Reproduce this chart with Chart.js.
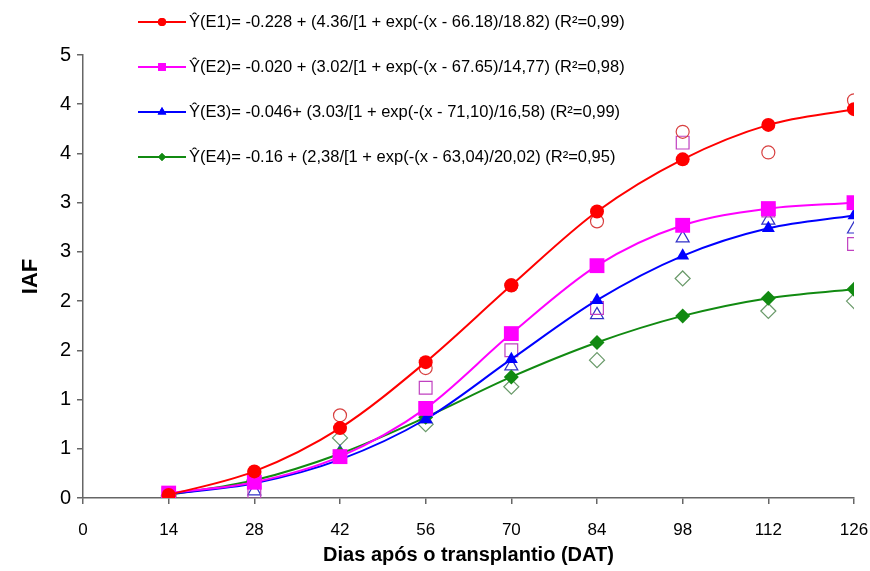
<!DOCTYPE html>
<html lang="pt">
<head>
<meta charset="UTF-8">
<title>IAF</title>
<script src="https://cdn.jsdelivr.net/npm/chart.js@4/dist/chart.umd.min.js"></script>
<style>
  html, body { margin: 0; padding: 0; background: #fff; }
  #wrap { width: 870px; height: 571px; }
</style>
</head>
<body>
<div id="wrap"><canvas id="grafico"></canvas></div>
<script>
// dias apos o transplantio
var dias = [14, 28, 42, 56, 70, 84, 98, 112, 126];
var yTickLabels = ['0', '1', '1', '2', '2', '3', '3', '4', '4', '5'];

// valores ajustados (curvas)
var e1Ajust = [0.03, 0.27, 0.71, 1.38, 2.16, 2.91, 3.44, 3.79, 3.95];
var e2Ajust = [0.05, 0.16, 0.42, 0.91, 1.67, 2.36, 2.77, 2.94, 3.00];
var e3Ajust = [0.04, 0.15, 0.39, 0.80, 1.41, 2.01, 2.46, 2.74, 2.87];
var e4Ajust = [0.03, 0.18, 0.45, 0.82, 1.23, 1.58, 1.85, 2.03, 2.12];

// valores observados
var e1Obs = [0.03, 0.26, 0.84, 1.32, 2.16, 2.81, 3.72, 3.51, 4.04];
var e2Obs = [0.04, 0.06, 0.42, 1.12, 1.50, 1.93, 3.61, 2.92, 2.58];
var e3Obs = [0.02, 0.07, 0.46, 0.80, 1.34, 1.86, 2.64, 2.82, 2.73];
var e4Obs = [0.02, 0.18, 0.61, 0.75, 1.13, 1.40, 2.23, 1.90, 2.00];

var legendas = [
    '\u0176(E1)= -0.228 + (4.36/[1 + exp(-(x - 66.18)/18.82) (R\u00b2=0,99)',
    '\u0176(E2)= -0.020 + (3.02/[1 + exp(-(x - 67.65)/14,77) (R\u00b2=0,98)',
    '\u0176(E3)= -0.046+ (3.03/[1 + exp(-(x - 71,10)/16,58) (R\u00b2=0,99)',
    '\u0176(E4)= -0.16 + (2,38/[1 + exp(-(x - 63,04)/20,02) (R\u00b2=0,95)'
];

function pontos(ys) {
    return dias.map(function (d, i) { return { x: d, y: ys[i] }; });
}

function curva(label, ys, cor, estilo, raio) {
    return {
        label: label, data: pontos(ys), borderColor: cor, backgroundColor: cor,
        borderWidth: 2, pointStyle: estilo, pointRadius: raio, pointBorderWidth: 0,
        pointBackgroundColor: cor, cubicInterpolationMode: 'monotone', showLine: true
    };
}

function observado(ys, cor, estilo, raio) {
    return {
        label: 'obs', data: pontos(ys), showLine: false, borderColor: cor,
        backgroundColor: 'rgba(0,0,0,0)', pointStyle: estilo, pointRadius: raio,
        pointBorderWidth: 1.2, pointBackgroundColor: 'rgba(255,255,255,0)', pointBorderColor: cor
    };
}

var cores = ['#ff0000', '#ff00ff', '#0000ff', '#118a11'];
var estilos = ['circle', 'rect', 'triangle', 'rectRot'];
var legRaio = [4, 5.5, 5, 4];
var legY = [22, 67, 112, 157];

// legenda desenhada por cima da area do grafico
var legendaPlugin = {
    id: 'legendaPlugin',
    afterDraw: function (chart) {
        var ctx = chart.ctx;
        ctx.save();
        for (var i = 0; i < 4; i++) {
            var y = legY[i];
            ctx.strokeStyle = cores[i];
            ctx.lineWidth = 2;
            ctx.beginPath();
            ctx.moveTo(138, y);
            ctx.lineTo(186, y);
            ctx.stroke();
            ctx.fillStyle = cores[i];
            Chart.helpers.drawPoint(ctx, { pointStyle: estilos[i], radius: legRaio[i], borderWidth: 0 }, 162, y);
            ctx.fill();
            ctx.fillStyle = '#000';
            ctx.font = '16.5px "Liberation Sans", Arial, sans-serif';
            ctx.textBaseline = 'middle';
            ctx.fillText(legendas[i], 189, y);
        }
        ctx.restore();
    }
};

var fonte = '"Liberation Sans", Arial, sans-serif';

var config = {
    type: 'line',
    data: {
        datasets: [
            curva('E1', e1Ajust, cores[0], 'circle', 7),
            curva('E2', e2Ajust, cores[1], 'rect', 10.5),
            curva('E3', e3Ajust, cores[2], 'triangle', 7.5),
            curva('E4', e4Ajust, cores[3], 'rectRot', 7.5),
            observado(e1Obs, '#d84040', 'circle', 6.5),
            observado(e2Obs, '#c040c0', 'rect', 9),
            observado(e3Obs, '#3030c8', 'triangle', 7.5),
            observado(e4Obs, '#6a9a6a', 'rectRot', 7.5)
        ]
    },
    options: {
        responsive: true,
        maintainAspectRatio: false,
        animation: false,
        events: [],
        layout: { padding: { left: 0, right: 16, top: 55, bottom: 0 } },
        plugins: { legend: { display: false }, tooltip: { enabled: false } },
        scales: {
            x: {
                type: 'linear', min: 0, max: 126,
                afterFit: function (s) { s.height = 73; s.paddingLeft = 0; s.paddingRight = 0; },
                ticks: { stepSize: 14, color: '#000', padding: 16, font: { family: fonte, size: 17 } },
                grid: { drawOnChartArea: false, drawTicks: true, tickLength: 6, color: '#666', lineWidth: 1.5 },
                border: { color: '#666', width: 1.5 },
                title: { display: true, text: 'Dias após o transplantio (DAT)', color: '#000',
                    font: { family: fonte, size: 20, weight: 'bold' }, padding: { top: 9 } }
            },
            y: {
                min: 0, max: 4.5,
                afterFit: function (s) { s.width = 83; },
                ticks: {
                    stepSize: 0.5, color: '#000', padding: 6,
                    font: { family: fonte, size: 20 },
                    callback: function (v, i) { return yTickLabels[i]; }
                },
                grid: { drawOnChartArea: false, drawTicks: true, tickLength: 6, color: '#666', lineWidth: 1.5 },
                border: { color: '#666', width: 1.5 },
                title: { display: true, text: 'IAF', color: '#000',
                    font: { family: fonte, size: 22, weight: 'bold' }, padding: { top: 18, bottom: 0 } }
            }
        }
    },
    plugins: [legendaPlugin]
};

new Chart(document.getElementById('grafico').getContext('2d'), config);
</script>
</body>
</html>
